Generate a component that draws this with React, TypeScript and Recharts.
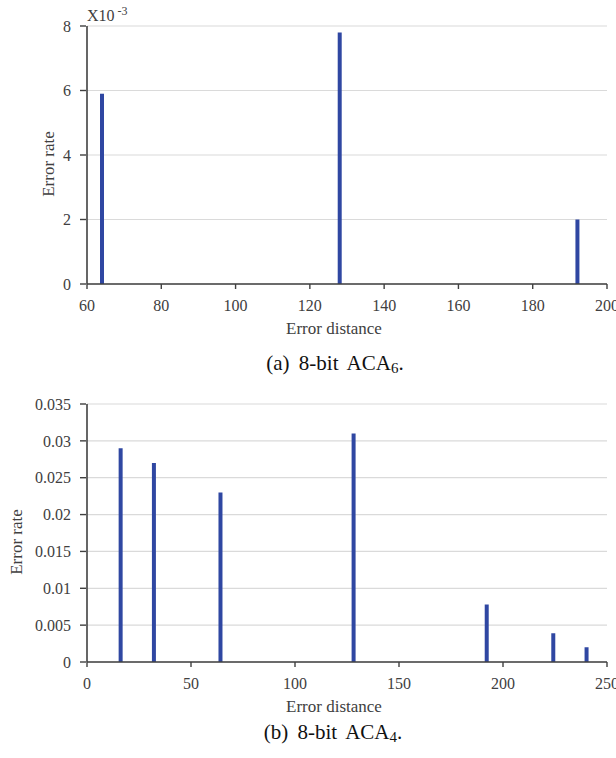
import React from 'react';
import { BarChart, Bar, XAxis, YAxis, CartesianGrid, Label } from 'recharts';

// (a) 8-bit ACA6 — error rate in units of 10^-3
const aDistances = [64, 128, 192];
const aRates = [5.9, 7.8, 2.0];
const aXTicks = [60, 80, 100, 120, 140, 160, 180, 200];
const aYTicks = [0, 2, 4, 6, 8];
const aYMinorTicks = [0, 0.5, 1, 1.5, 2, 2.5, 3, 3.5, 4, 4.5, 5, 5.5, 6, 6.5, 7, 7.5, 8];

// (b) 8-bit ACA4
const bDistances = [16, 32, 64, 128, 192, 224, 240];
const bRates = [0.029, 0.027, 0.023, 0.031, 0.0078, 0.0039, 0.002];
const bXTicks = [0, 50, 100, 150, 200, 250];
const bYTicks = [0, 0.005, 0.01, 0.015, 0.02, 0.025, 0.03, 0.035];
const bYMinorTicks = [
  0, 0.001, 0.002, 0.003, 0.004, 0.005, 0.006, 0.007, 0.008, 0.009,
  0.01, 0.011, 0.012, 0.013, 0.014, 0.015, 0.016, 0.017, 0.018, 0.019,
  0.02, 0.021, 0.022, 0.023, 0.024, 0.025, 0.026, 0.027, 0.028, 0.029,
  0.03, 0.031, 0.032, 0.033, 0.034, 0.035,
];

const FONT = '"Liberation Serif", "Times New Roman", serif';
const AXIS = '#404040';
const TEXT = '#404040';
const BAR = '#2f47a2';
const GRID = '#dadada';

const tickStyle = { fontFamily: FONT, fontSize: 16, fill: TEXT };

const toRows = (xs: number[], ys: number[]) => xs.map((d, i) => ({ distance: d, rate: ys[i] }));

const YTitle = (props: any) => {
  const { viewBox, titleX } = props;
  const cy = viewBox.y + viewBox.height / 2 + 9;
  return (
    <text x={titleX} y={cy} transform={`rotate(-90, ${titleX}, ${cy})`} textAnchor="middle"
      dominantBaseline="central" style={{ fontFamily: FONT, fontSize: 17, fill: TEXT }}>
      Error rate
    </text>
  );
};

const XTitle = (props: any) => {
  const { viewBox } = props;
  const cx = viewBox.x + viewBox.width / 2 - 13;
  const cy = viewBox.y + 44;
  return (
    <text x={cx} y={cy} textAnchor="middle" dominantBaseline="central"
      style={{ fontFamily: FONT, fontSize: 17, fill: TEXT }}>
      Error distance
    </text>
  );
};

interface PanelProps {
  data: { distance: number; rate: number }[];
  xDomain: [number, number];
  xTicks: number[];
  yDomain: [number, number];
  yTicks: number[];
  yMinor: number[];
  titleX: number;
}

// default y axis (1px wide, next to the plot) draws the axis line and minor ticks;
// the "major" axis further left carries labelled ticks and drives the grid
const Panel: React.FC<PanelProps> = ({ data, xDomain, xTicks, yDomain, yTicks, yMinor, titleX }) => (
  <BarChart width={616} height={344} data={data} margin={{ top: 26, right: 9, left: -1, bottom: 10 }} barSize={4}>
    <CartesianGrid vertical={false} yAxisId="major" stroke={GRID} strokeWidth={1.2} />
    <XAxis
      dataKey="distance"
      type="number"
      domain={xDomain}
      ticks={xTicks}
      allowDataOverflow
      interval={0}
      height={50}
      tickSize={5}
      tickMargin={11}
      tick={tickStyle}
      axisLine={{ stroke: AXIS, strokeWidth: 1.6 }}
      tickLine={{ stroke: AXIS, strokeWidth: 1.4 }}
    >
      <Label content={(p: any) => <XTitle {...p} />} />
    </XAxis>
    <YAxis
      type="number"
      domain={yDomain}
      ticks={yMinor}
      allowDataOverflow
      interval={0}
      width={1}
      tick={false}
      tickSize={4}
      axisLine={{ stroke: AXIS, strokeWidth: 1.6 }}
      tickLine={{ stroke: AXIS, strokeWidth: 1.2 }}
    />
    <YAxis
      yAxisId="major"
      type="number"
      domain={yDomain}
      ticks={yTicks}
      allowDataOverflow
      interval={0}
      width={87}
      tickSize={6}
      tickMargin={9}
      tick={tickStyle}
      axisLine={false}
      tickLine={{ stroke: AXIS, strokeWidth: 1.4 }}
    >
      <Label content={(p: any) => <YTitle {...p} titleX={titleX} />} />
    </YAxis>
    <Bar dataKey="rate" fill={BAR} isAnimationActive={false} />
  </BarChart>
);

const captionStyle: React.CSSProperties = {
  position: 'absolute',
  transform: 'translateX(-50%)',
  fontFamily: FONT,
  fontSize: 21,
  lineHeight: '22px',
  wordSpacing: 4,
  color: '#111',
  whiteSpace: 'nowrap',
};

export default function App() {
  return (
    <div style={{ position: 'absolute', left: 0, top: 0, width: 616, height: 758, background: '#fff' }}>
      <div style={{ position: 'absolute', left: 0, top: 0 }}>
        <Panel data={toRows(aDistances, aRates)} xDomain={[60, 200]} xTicks={aXTicks}
          yDomain={[0, 8]} yTicks={aYTicks} yMinor={aYMinorTicks} titleX={48} />
      </div>
      <div style={{ position: 'absolute', left: 87, top: 8, fontFamily: FONT, fontSize: 16, lineHeight: '16px', color: TEXT }}>
        X10<span style={{ fontSize: 12, position: 'relative', top: -6, marginLeft: 3 }}>-3</span>
      </div>
      <div style={{ ...captionStyle, left: 335, top: 352 }}>
        (a) 8-bit ACA<sub style={{ fontSize: 15, verticalAlign: -3 }}>6</sub>.
      </div>
      <div style={{ position: 'absolute', left: 0, top: 378 }}>
        <Panel data={toRows(bDistances, bRates)} xDomain={[0, 250]} xTicks={bXTicks}
          yDomain={[0, 0.035]} yTicks={bYTicks} yMinor={bYMinorTicks} titleX={16} />
      </div>
      <div style={{ ...captionStyle, left: 333, top: 721 }}>
        (b) 8-bit ACA<sub style={{ fontSize: 15, verticalAlign: -3 }}>4</sub>.
      </div>
    </div>
  );
}
